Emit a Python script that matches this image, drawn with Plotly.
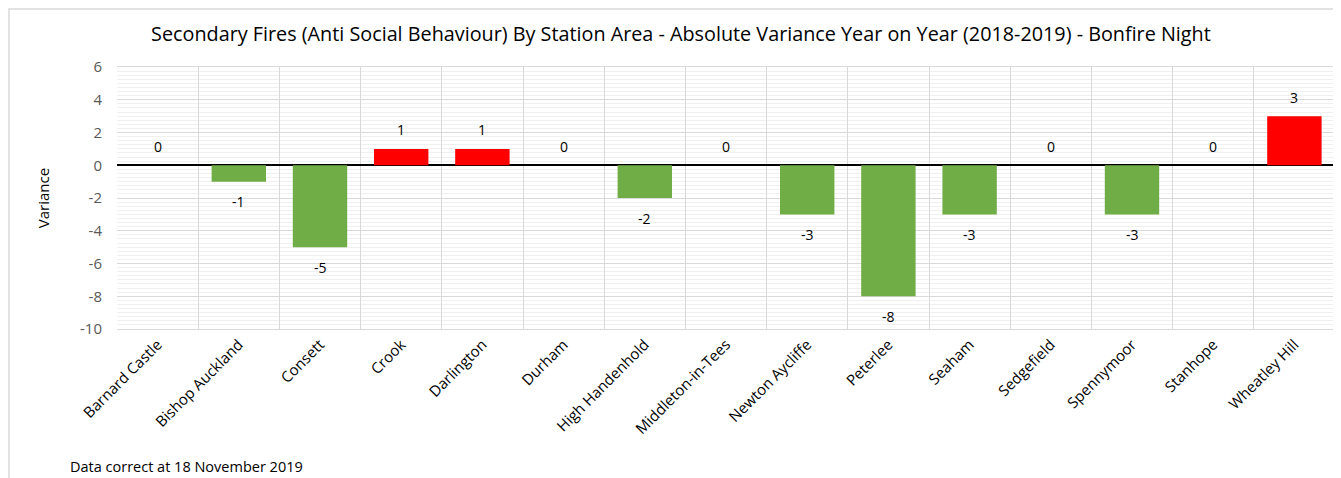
import plotly.graph_objects as go

stations = ["Barnard Castle", "Bishop Auckland", "Consett", "Crook", "Darlington",
            "Durham", "High Handenhold", "Middleton-in-Tees", "Newton Aycliffe",
            "Peterlee", "Seaham", "Sedgefield", "Spennymoor", "Stanhope", "Wheatley Hill"]
variance = [0, -1, -5, 1, 1, 0, -2, 0, -3, -8, -3, 0, -3, 0, 3]

y_ticks = [-10, -8, -6, -4, -2, 0, 2, 4, 6]
y_ticktext = ["-10", "-8", "-6", "-4", "-2", "0", "2", "4", "6"]

GREEN = "#70AD47"
RED = "#FF0000"
FONT = "Open Sans"

colors = [RED if v > 0 else GREEN for v in variance]

fig = go.Figure()
fig.add_trace(go.Bar(
    x=stations,
    y=variance,
    marker=dict(color=colors, line=dict(width=0)),
    width=0.67,
    hoverinfo="x+y",
))

# data labels (Excel style: above for >= 0, below for negatives)
for s, v in zip(stations, variance):
    fig.add_annotation(
        x=s, y=v, text=str(v), showarrow=False,
        yshift=19 if v >= 0 else -20,
        font=dict(family=FONT, size=14, color="#000000"),
    )

# page body has an 8px margin, so the figure is 8px smaller and margins shifted
fig.update_layout(
    width=1333, height=470,
    paper_bgcolor="white", plot_bgcolor="white",
    margin=dict(l=109, r=6, t=59, b=149),
    showlegend=False,
    title=dict(
        text="Secondary Fires (Anti Social Behaviour) By Station Area - Absolute Variance Year on Year (2018-2019) - Bonfire Night",
        x=0.463, xref="paper", xanchor="center", y=0.945, yanchor="middle",
        font=dict(family=FONT, size=19.8, color="#000000"),
    ),
    xaxis=dict(
        type="category",
        tickson="boundaries",
        showgrid=True, gridcolor="#D9D9D9", gridwidth=1,
        ticks="", tickangle=-45,
        tickfont=dict(family=FONT, size=15, color="#000000"),
        showline=True, linecolor="#D9D9D9", mirror=True,
        zeroline=False,
    ),
    yaxis=dict(
        range=[-10, 6],
        tickvals=y_ticks, ticktext=y_ticktext,
        showgrid=True, gridcolor="#D9D9D9", gridwidth=1,
        minor=dict(dtick=0.25, showgrid=True, gridcolor="#F0F0F0", gridwidth=1),
        zeroline=True, zerolinecolor="#000000", zerolinewidth=1.5,
        tickfont=dict(family=FONT, size=15, color="#595959"),
        ticks="", ticklabelstandoff=14,
        title=dict(text="Variance", standoff=26,
                   font=dict(family=FONT, size=15, color="#000000")),
    ),
)

# outer chart border (only left and top edges fall inside the window)
fig.add_shape(type="rect", xref="paper", yref="paper",
              x0=-0.0887, x1=1.2, y0=-0.8, y1=1.221,
              line=dict(color="#D9D9D9", width=1.5), layer="below")

fig.add_annotation(
    text="Data correct at 18 November 2019", xref="paper", yref="paper",
    x=-0.0402, y=-0.523, xanchor="left", yanchor="middle", showarrow=False,
    font=dict(family=FONT, size=14.5, color="#000000"),
)

fig.write_html("out.html")
